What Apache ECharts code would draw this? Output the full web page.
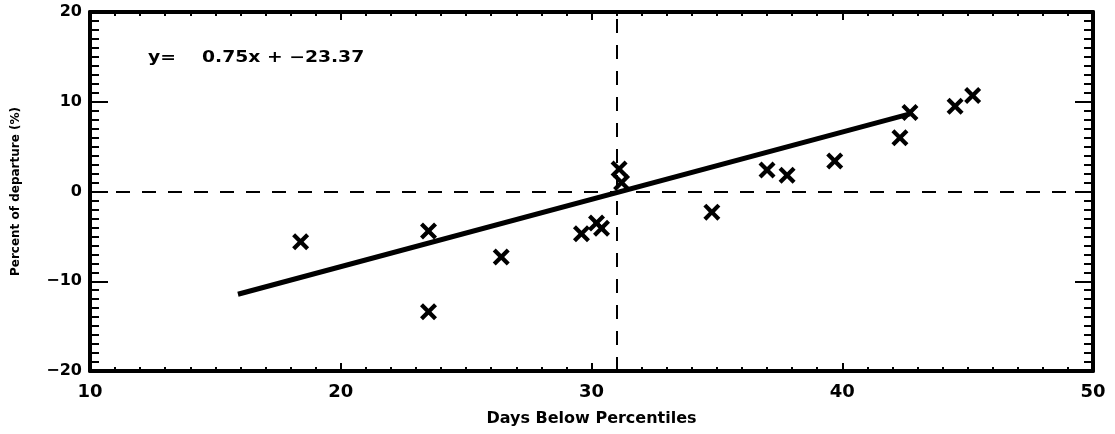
<!DOCTYPE html>
<html>
<head>
<meta charset="utf-8">
<script src="https://cdn.jsdelivr.net/npm/echarts@6/dist/echarts.min.js"></script>
<style>
  html, body { margin: 0; padding: 0; background: #fff; }
  #chart { width: 1115px; height: 434px; }
</style>
</head>
<body>
<div id="chart"></div>
<script>
// Days below percentiles vs. percent of departure, one point per year
const daysBelow = [18.4, 23.5, 23.5, 26.4, 29.6, 30.2, 30.4, 31.1, 31.2, 34.8, 37.0, 37.8, 39.7, 42.3, 42.7, 44.5, 45.2];
const departure = [-5.6, -4.4, -13.4, -7.3, -4.7, -3.5, -4.1, 2.5, 1.0, -2.3, 2.4, 1.8, 3.4, 6.0, 8.8, 9.5, 10.7];

// Least-squares fit stated on the chart, drawn over this x span
const fitSlope = 0.75;
const fitIntercept = -23.37;
const fitRange = [15.9, 42.7];

// Reference lines (dashed)
const refX = 31.0;
const refY = 0;

const xTicks = { min: 10, max: 50, interval: 10 };
const yTicks = { min: -20, max: 20, interval: 10 };

const font = 'DejaVu Sans';
const points = daysBelow.map((d, i) => [d, departure[i]]);
const fitLine = fitRange.map(x => [x, fitSlope * x + fitIntercept]);
const minus = s => String(s).replace('-', '\u2212');
const eqText = 'y=    ' + fitSlope.toFixed(2) + 'x + ' + minus(fitIntercept.toFixed(2));

const crossPath = 'path://M0,3.5 L3.5,0 L10,6.5 L16.5,0 L20,3.5 L13.5,10 L20,16.5 L16.5,20 L10,13.5 L3.5,20 L0,16.5 L6.5,10 Z';

function xAxisDef(pos, showLabel) {
  return {
    type: 'value', position: pos, min: xTicks.min, max: xTicks.max, interval: xTicks.interval,
    axisLine: { show: true, onZero: false, lineStyle: { color: '#000', width: 4 } },
    axisTick: { show: true, inside: true, length: 8, lineStyle: { color: '#000', width: 2 } },
    minorTick: { show: true, splitNumber: 10, length: 4, lineStyle: { color: '#000', width: 2 } },
    splitLine: { show: false },
    axisLabel: { show: showLabel, color: '#000', fontFamily: font, fontWeight: 'bold', fontSize: 18, margin: 12, formatter: minus },
    name: showLabel ? 'Days Below Percentiles' : '',
    nameLocation: 'middle', nameGap: 40,
    nameTextStyle: { color: '#000', fontFamily: font, fontWeight: 'bold', fontSize: 16 }
  };
}
function yAxisDef(pos, showLabel) {
  return {
    type: 'value', position: pos, min: yTicks.min, max: yTicks.max, interval: yTicks.interval,
    axisLine: { show: true, onZero: false, lineStyle: { color: '#000', width: 4 } },
    axisTick: { show: true, inside: true, length: 18, lineStyle: { color: '#000', width: 2 } },
    minorTick: { show: true, splitNumber: 10, length: 9, lineStyle: { color: '#000', width: 2 } },
    splitLine: { show: false },
    axisLabel: { show: showLabel, color: '#000', fontFamily: font, fontWeight: 'bold', fontSize: 16, margin: 8, formatter: minus },
    name: showLabel ? 'Percent of departure (%)' : '',
    nameLocation: 'middle', nameGap: 68,
    nameTextStyle: { color: '#000', fontFamily: font, fontWeight: 'bold', fontSize: 12 }
  };
}

const chart = echarts.init(document.getElementById('chart'), null, { renderer: 'canvas' });
chart.setOption({
  backgroundColor: '#fff',
  animation: false,
  grid: { left: 90, right: 22, top: 12, bottom: 63, containLabel: false },
  xAxis: [xAxisDef('bottom', true), xAxisDef('top', false)],
  yAxis: [yAxisDef('left', true), yAxisDef('right', false)],
  graphic: [{
    type: 'text', x: 148, y: 58, scaleX: 1.25,
    style: { text: eqText, x: 0, y: 0, verticalAlign: 'middle', fill: '#000', font: 'bold 15px "DejaVu Sans"' }
  }],
  series: [
    {
      type: 'line', data: fitLine, xAxisIndex: 0, yAxisIndex: 0,
      showSymbol: false, symbol: 'none', silent: true,
      lineStyle: { color: '#000', width: 5 },
      markLine: {
        silent: true, symbol: 'none', label: { show: false },
        lineStyle: { color: '#000', width: 2, type: [14, 12] },
        data: [{ xAxis: refX }, { yAxis: refY }]
      }
    },
    {
      type: 'scatter', data: points, xAxisIndex: 0, yAxisIndex: 0,
      symbol: crossPath, symbolSize: 17,
      itemStyle: { color: '#000', opacity: 1 }
    }
  ]
});
</script>
</body>
</html>
